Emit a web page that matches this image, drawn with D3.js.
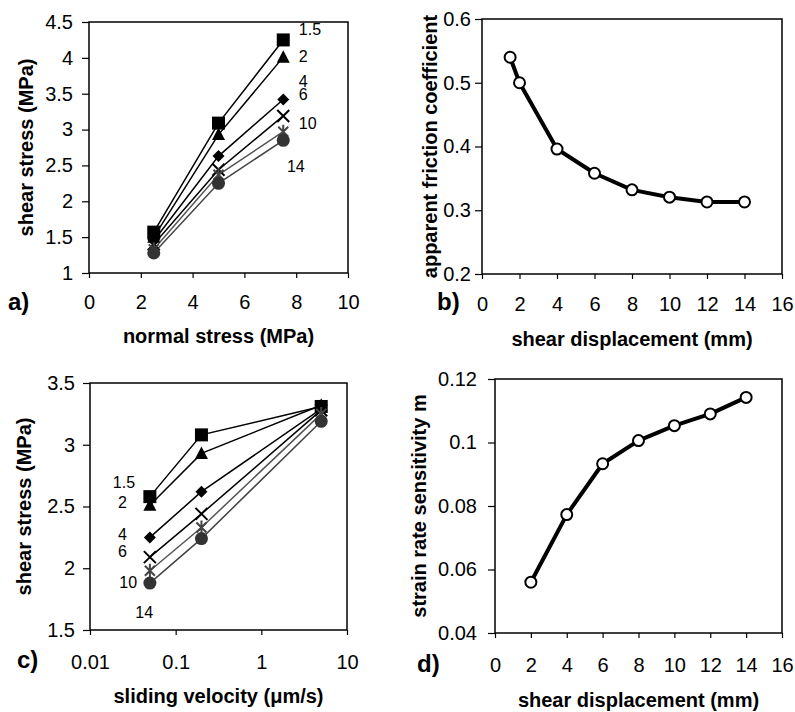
<!DOCTYPE html>
<html>
<head>
<meta charset="utf-8">
<script src="https://cdn.jsdelivr.net/npm/d3@7"></script>
<style>
  body { margin: 0; background: #fff; }
  svg { font-family: "Liberation Sans", Arial, sans-serif; }
  .tick text { font-size: 20px; fill: #000; }
  .axis-title { font-size: 20px; font-weight: bold; }
  .panel-label { font-size: 24px; font-weight: bold; }
  .series-label { font-size: 16px; }
</style>
</head>
<body>
<div id="chart"></div>
<script>
// series names (shear displacement, mm)
const seriesNames = ['1.5', '2', '4', '6', '10', '14'];

// panel a: shear stress vs normal stress
const normalStress = [2.5, 5, 7.5];
const shearA = [
    [1.57, 3.09, 4.25],
    [1.50, 2.93, 4.01],
    [1.45, 2.63, 3.42],
    [1.40, 2.44, 3.19],
    [1.33, 2.37, 2.97],
    [1.28, 2.25, 2.85]
];

// panel c: shear stress vs sliding velocity
const velocity = [0.05, 0.2, 5];
const shearC = [
    [2.58, 3.08, 3.31],
    [2.51, 2.93, 3.32],
    [2.25, 2.62, 3.29],
    [2.09, 2.44, 3.28],
    [1.98, 2.33, 3.25],
    [1.88, 2.24, 3.19]
];

// panel b: apparent friction coefficient
const dispB = [1.5, 2, 4, 6, 8, 10, 12, 14];
const friction = [0.54, 0.50, 0.396, 0.358, 0.332, 0.3205, 0.313, 0.313];

// panel d: strain rate sensitivity
const dispD = [2, 4, 6, 8, 10, 12, 14];
const sensitivity = [0.056, 0.0773, 0.0933, 0.1006, 0.1053, 0.109, 0.1142];

// tick values
const ticksA_x = [0, 2, 4, 6, 8, 10];
const ticksA_y = [1, 1.5, 2, 2.5, 3, 3.5, 4, 4.5];
const ticksB_x = [0, 2, 4, 6, 8, 10, 12, 14, 16];
const ticksB_y = [0.2, 0.3, 0.4, 0.5, 0.6];
const ticksC_x = [0.01, 0.1, 1, 10];
const ticksC_y = [1.5, 2, 2.5, 3, 3.5];
const ticksD_x = [0, 2, 4, 6, 8, 10, 12, 14, 16];
const ticksD_y = [0.04, 0.06, 0.08, 0.1, 0.12];

// series label anchors, in data units
const labelPosA = [[8.1, 4.32], [8.1, 3.94], [8.1, 3.60], [8.1, 3.41], [8.1, 3.01], [7.64, 2.41]];
const labelPosC = [[0.0336, 2.65], [0.027, 2.49], [0.027, 2.23], [0.027, 2.09], [0.0354, 1.84], [0.0545, 1.60]];

const W = 795, H = 712;
const svg = d3.select('#chart').append('svg')
    .attr('width', W)
    .attr('height', H);

const seriesColor = ['#000', '#000', '#000', '#000', '#444', '#333'];
const lineColor = ['#000', '#000', '#000', '#000', '#555', '#444'];

// marker paths centred at 0,0
function markerPath(i) {
    if (i === 0) return 'M-6.5,-6.5H6.5V6.5H-6.5Z';
    if (i === 1) return 'M0,-7L6.5,5.5H-6.5Z';
    if (i === 2) return 'M0,-6L6,0L0,6L-6,0Z';
    if (i === 3) return 'M-6,-6L6,6M6,-6L-6,6';
    if (i === 4) return 'M-5,-5L5,5M5,-5L-5,5M0,-7V7';
    return null;
}

function drawPanel(opt) {
    const g = svg.append('g');
    const x = opt.xScale, y = opt.yScale;
    const [x0, x1] = x.range(), [y1, y0] = y.range();

    // frame
    g.append('rect')
        .attr('x', x0).attr('y', y0)
        .attr('width', x1 - x0).attr('height', y1 - y0)
        .attr('fill', 'none')
        .attr('stroke', '#000')
        .attr('stroke-width', 1.5);

    const xAxis = g.append('g')
        .attr('transform', `translate(0,${y1})`)
        .call(d3.axisBottom(x).tickValues(opt.xTicks).tickSize(5).tickPadding(opt.xPad)
            .tickFormat(d => String(d)));
    const yAxis = g.append('g')
        .attr('transform', `translate(${x0},0)`)
        .call(d3.axisLeft(y).tickValues(opt.yTicks).tickSize(7).tickPadding(opt.yPad)
            .tickFormat(d => String(d)));
    [xAxis, yAxis].forEach(a => {
        a.select('.domain').remove();
        a.selectAll('.tick line').attr('stroke', '#000').attr('stroke-width', 1.2);
        a.attr('font-family', null).attr('font-size', null);
    });

    // panel label
    g.append('text')
        .attr('class', 'panel-label')
        .attr('x', opt.label[1]).attr('y', opt.label[2])
        .text(opt.label[0]);

    // x title
    g.append('text')
        .attr('class', 'axis-title')
        .attr('text-anchor', 'middle')
        .attr('x', (x0 + x1) / 2)
        .attr('y', opt.xTitleY)
        .text(opt.xTitle);

    // y title
    g.append('text')
        .attr('class', 'axis-title')
        .attr('text-anchor', 'middle')
        .attr('transform', `translate(${opt.yTitleX},${(y0 + y1) / 2}) rotate(-90)`)
        .attr('dy', '0.35em')
        .text(opt.yTitle);

    return g;
}

function drawMulti(g, x, y, xs, series) {
    const line = d3.line().x((d, i) => x(xs[i])).y(d => y(d));
    series.forEach((vals, s) => {
        g.append('path')
            .datum(vals)
            .attr('fill', 'none')
            .attr('stroke', lineColor[s])
            .attr('stroke-width', 1.5)
            .attr('d', line);
    });
    series.forEach((vals, s) => {
        const pts = g.selectAll(null)
            .data(vals)
            .enter();
        if (s === 5) {
            pts.append('circle')
                .attr('cx', (d, i) => x(xs[i]))
                .attr('cy', d => y(d))
                .attr('r', 6.5)
                .attr('fill', seriesColor[s]);
        } else {
            const stroked = s === 3 || s === 4;
            pts.append('path')
                .attr('transform', (d, i) => `translate(${x(xs[i])},${y(d)})`)
                .attr('d', markerPath(s))
                .attr('fill', stroked ? 'none' : seriesColor[s])
                .attr('stroke', stroked ? seriesColor[s] : 'none')
                .attr('stroke-width', 2);
        }
    });
}

function drawSingle(g, x, y, xs, vals) {
    const line = d3.line().x((d, i) => x(xs[i])).y(d => y(d));
    g.append('path')
        .datum(vals)
        .attr('fill', 'none')
        .attr('stroke', '#000')
        .attr('stroke-width', 4)
        .attr('stroke-linejoin', 'round')
        .attr('d', line);
    g.selectAll(null)
        .data(vals)
        .enter()
        .append('circle')
        .attr('cx', (d, i) => x(xs[i]))
        .attr('cy', d => y(d))
        .attr('r', 5.5)
        .attr('fill', '#fff')
        .attr('stroke', '#000')
        .attr('stroke-width', 2);
}

// ---- panel a ----
const xA = d3.scaleLinear().domain([0, 10]).range([89, 348]);
const yA = d3.scaleLinear().domain([1, 4.5]).range([273, 22]);
const gA = drawPanel({
    xScale: xA, yScale: yA, xTicks: ticksA_x, yTicks: ticksA_y,
    xPad: 17, yPad: 9,
    label: ['a)', 8, 310],
    xTitle: 'normal stress (MPa)', xTitleY: 343,
    yTitle: 'shear stress (MPa)', yTitleX: 26
});
drawMulti(gA, xA, yA, normalStress, shearA);
gA.selectAll('.series-label')
    .data(seriesNames)
    .enter()
    .append('text')
    .attr('class', 'series-label')
    .attr('x', (d, i) => xA(labelPosA[i][0]))
    .attr('y', (d, i) => yA(labelPosA[i][1]))
    .text(d => d);

// ---- panel b ----
const xB = d3.scaleLinear().domain([0, 16]).range([482, 782]);
const yB = d3.scaleLinear().domain([0.2, 0.6]).range([274, 19]);
const gB = drawPanel({
    xScale: xB, yScale: yB, xTicks: ticksB_x, yTicks: ticksB_y,
    xPad: 18, yPad: 4,
    label: ['b)', 437, 310],
    xTitle: 'shear displacement (mm)', xTitleY: 346,
    yTitle: 'apparent friction coefficient', yTitleX: 430
});
drawSingle(gB, xB, yB, dispB, friction);

// ---- panel c ----
const xC = d3.scaleLog().domain([0.01, 10]).range([90, 347]);
const yC = d3.scaleLinear().domain([1.5, 3.5]).range([630, 383]);
const gC = drawPanel({
    xScale: xC, yScale: yC, xTicks: ticksC_x, yTicks: ticksC_y,
    xPad: 20, yPad: 8,
    label: ['c)', 17, 668],
    xTitle: 'sliding velocity (\u03bcm/s)', xTitleY: 703,
    yTitle: 'shear stress (MPa)', yTitleX: 24
});
drawMulti(gC, xC, yC, velocity, shearC);
gC.selectAll('.series-label')
    .data(seriesNames)
    .enter()
    .append('text')
    .attr('class', 'series-label')
    .attr('text-anchor', 'end')
    .attr('x', (d, i) => xC(labelPosC[i][0]))
    .attr('y', (d, i) => yC(labelPosC[i][1]))
    .text(d => d);

// ---- panel d ----
const xD = d3.scaleLinear().domain([0, 16]).range([495, 782]);
const yD = d3.scaleLinear().domain([0.04, 0.12]).range([633, 379]);
const gD = drawPanel({
    xScale: xD, yScale: yD, xTicks: ticksD_x, yTicks: ticksD_y,
    xPad: 20, yPad: 11,
    label: ['d)', 417, 672],
    xTitle: 'shear displacement (mm)', xTitleY: 707,
    yTitle: 'strain rate sensitivity m', yTitleX: 419
});
drawSingle(gD, xD, yD, dispD, sensitivity);
</script>
</body>
</html>
